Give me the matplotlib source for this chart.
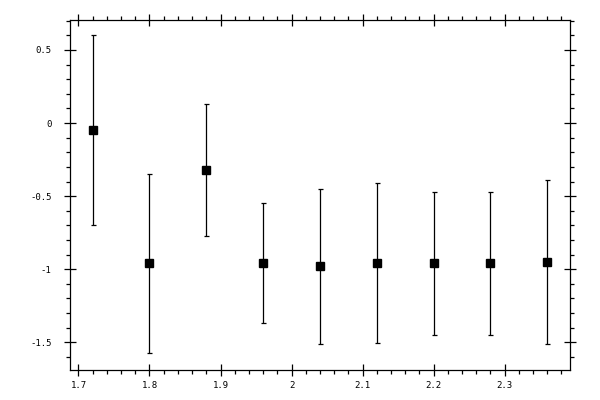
import numpy as np
import matplotlib
matplotlib.use("Agg")
import matplotlib.pyplot as plt
from matplotlib.ticker import MultipleLocator, FormatStrFormatter

# values
x = [1.72, 1.80, 1.88, 1.96, 2.04, 2.12, 2.20, 2.28, 2.36]
y = [-0.045, -0.960, -0.322, -0.960, -0.980, -0.960, -0.960, -0.960, -0.952]
err = [0.650, 0.613, 0.450, 0.411, 0.532, 0.547, 0.490, 0.490, 0.560]

plt.rcParams['font.family'] = ['DejaVu Sans Mono']
plt.rcParams['font.size'] = 6.5

fig = plt.figure(figsize=(6, 4), dpi=100)
ax = fig.add_axes([0.116, 0.075, 0.8345, 0.876])

ax.errorbar(x, y, yerr=err, fmt='s', color='black', ecolor='black',
            markersize=5.2, elinewidth=0.9, capsize=1.8, capthick=0.9)

ax.set_xlim(1.6875, 2.3925)
ax.set_ylim(-1.69, 0.708)

ax.xaxis.set_major_locator(MultipleLocator(0.1))
ax.xaxis.set_minor_locator(MultipleLocator(0.02))
ax.yaxis.set_major_locator(MultipleLocator(0.5))
ax.yaxis.set_minor_locator(MultipleLocator(0.1))
ax.xaxis.set_major_formatter(FormatStrFormatter('%g'))
ax.yaxis.set_major_formatter(FormatStrFormatter('%g'))

ax.tick_params(which='major', direction='inout', length=8, width=0.9,
               top=True, right=True)
ax.tick_params(which='minor', direction='out', length=3, width=0.9,
               top=True, right=True)
ax.tick_params(axis='x', which='major', pad=4)
ax.tick_params(axis='y', which='major', pad=9)

for s in ax.spines.values():
    s.set_linewidth(0.9)

fig.savefig('out.png', dpi=100)
